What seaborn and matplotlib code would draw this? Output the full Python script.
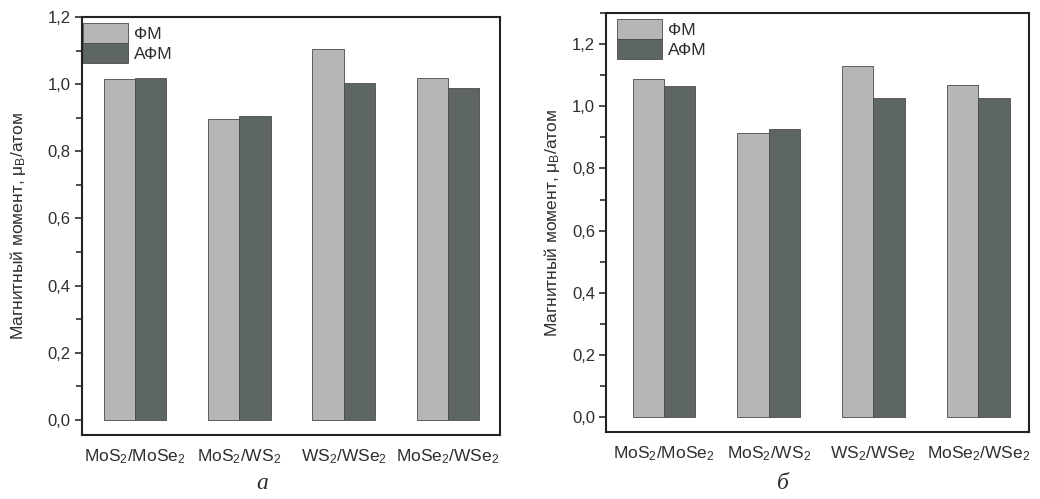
import matplotlib
matplotlib.use("Agg")
import matplotlib.pyplot as plt
from matplotlib.ticker import MultipleLocator, FuncFormatter
import pandas as pd
import seaborn as sns

PAIRS = ["MoS$_2$/MoSe$_2$", "MoS$_2$/WS$_2$", "WS$_2$/WSe$_2$", "MoSe$_2$/WSe$_2$"]
STATES = ["ФМ", "АФМ"]

# panel a
FM_A = [1.015, 0.895, 1.105, 1.018]
AFM_A = [1.017, 0.906, 1.002, 0.988]
# panel б
FM_B = [1.087, 0.915, 1.130, 1.068]
AFM_B = [1.064, 0.926, 1.026, 1.026]

LIGHT = "#b3b8b6"
DARK = "#5d6764"
TEXT = "#2e2e2e"


def make_df(fm, afm):
    rows = []
    for pair, v in zip(PAIRS, fm):
        rows.append({"pair": pair, "state": STATES[0], "moment": v})
    for pair, v in zip(PAIRS, afm):
        rows.append({"pair": pair, "state": STATES[1], "moment": v})
    return pd.DataFrame(rows)


def draw_panel(ax, df, ylim, xlim, legend_x, tag, tag_x, ylabel_pad):
    sns.barplot(data=df, x="pair", y="moment", hue="state", order=PAIRS,
                hue_order=STATES, palette=[LIGHT, DARK], width=0.6,
                edgecolor="#4a4a4a", linewidth=0.6, ax=ax)
    ax.set_ylim(*ylim)
    ax.set_xlim(*xlim)
    ax.yaxis.set_major_locator(MultipleLocator(0.2))
    ax.yaxis.set_minor_locator(MultipleLocator(0.1))
    ax.yaxis.set_major_formatter(FuncFormatter(lambda v, p: f"{v:.1f}".replace(".", ",")))
    ax.tick_params(axis="y", which="both", left=True, direction="out", width=1.2, colors=TEXT)
    ax.tick_params(axis="y", which="major", length=5, labelsize=12, pad=3)
    ax.tick_params(axis="y", which="minor", length=4)
    ax.tick_params(axis="x", bottom=False, length=0, labelsize=12.5, colors=TEXT, pad=9)
    ax.set_xlabel("")
    ax.set_ylabel("Магнитный момент, μ$_B$/атом", fontsize=12.5, color=TEXT,
                  labelpad=ylabel_pad)
    for s in ax.spines.values():
        s.set_linewidth(1.5)
        s.set_color("#222222")
        s.set_visible(True)
    handles, labels = ax.get_legend_handles_labels()
    ax.legend(handles, labels, loc="upper left", bbox_to_anchor=(legend_x, 0.985),
              frameon=False, handlelength=2.6, handleheight=1.4, labelspacing=0.0,
              handletextpad=0.3, borderaxespad=0.0, borderpad=0.0, fontsize=12.5,
              labelcolor=TEXT)
    ax.figure.text(tag_x, 0.02, tag, fontsize=17, style="italic",
                   family="Liberation Serif", color=TEXT, ha="center")


sns.set_theme(style="white")
plt.rcParams["font.family"] = ["Liberation Sans", "DejaVu Sans"]
plt.rcParams["mathtext.default"] = "regular"

fig = plt.figure(figsize=(10.4, 4.99), dpi=100)
ax1 = fig.add_axes([0.0788, 0.128, 0.402, 0.838])
ax2 = fig.add_axes([0.583, 0.134, 0.406, 0.840])

draw_panel(ax1, make_df(FM_A, AFM_A), (-0.045, 1.2), (-0.51, 3.5), 0.003, "а", 0.252, 14)
draw_panel(ax2, make_df(FM_B, AFM_B), (-0.048, 1.30), (-0.55, 3.48), 0.026, "б", 0.753, 7)

fig.savefig("out.png", dpi=100, facecolor="white")
